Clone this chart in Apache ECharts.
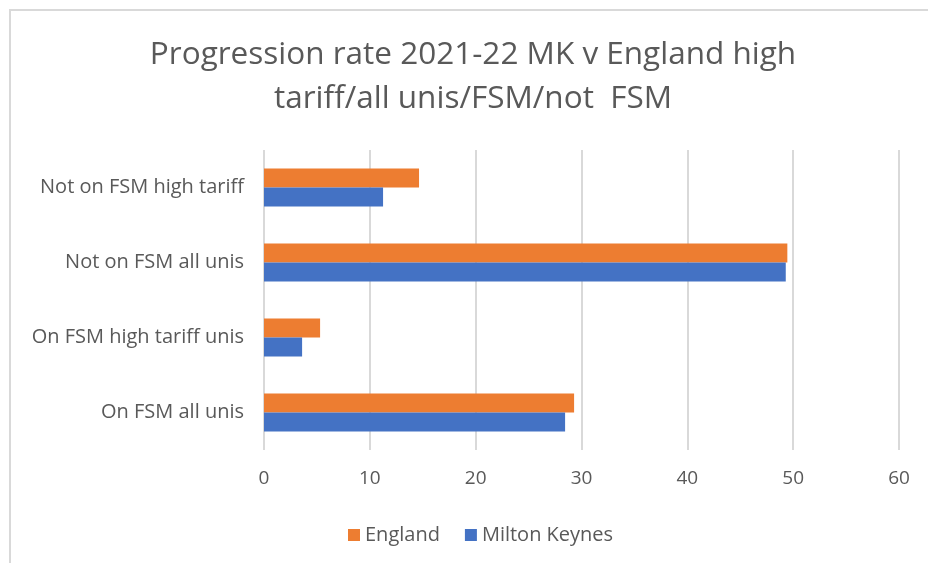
<!DOCTYPE html>
<html>
<head>
<meta charset="utf-8">
<script src="https://cdn.jsdelivr.net/npm/echarts@6/dist/echarts.min.js"></script>
<style>
  html, body { margin: 0; padding: 0; background: #ffffff; }
  #chart { width: 928px; height: 563px; }
</style>
</head>
<body>
<div id="chart"></div>
<script>
// Categories listed bottom-to-top (ECharts category y-axis starts at the bottom)
const categories = ['On FSM all unis', 'On FSM high tariff unis', 'Not on FSM all unis', 'Not on FSM high tariff'];
const englandValues = [29.3, 5.3, 49.45, 14.65];
const miltonKeynesValues = [28.45, 3.6, 49.3, 11.25];
const xTicks = { min: 0, max: 60, interval: 10 };

const textGrey = '#595959';
const fontFamily = '"Open Sans", "Noto Sans", sans-serif';

const chart = echarts.init(document.getElementById('chart'), null, { renderer: 'canvas' });

chart.setOption({
  backgroundColor: '#ffffff',
  animation: false,
  graphic: [{
    type: 'rect',
    z: -10,
    silent: true,
    shape: { x: 10, y: 10, width: 1000, height: 700 },
    style: { fill: '#ffffff', stroke: '#d9d9d9', lineWidth: 2 }
  }],
  title: {
    text: 'Progression rate 2021-22 MK v England high\ntariff/all unis/FSM/not  FSM',
    left: 468,
    textAlign: 'center',
    top: 28,
    textStyle: {
      fontFamily: fontFamily,
      fontWeight: 'normal',
      fontSize: 31.5,
      lineHeight: 44,
      color: textGrey
    }
  },
  legend: {
    data: ['England', 'Milton Keynes'],
    left: 343,
    top: 520,
    itemWidth: 12,
    itemHeight: 12,
    itemGap: 25,
    icon: 'rect',
    textStyle: { fontFamily: fontFamily, fontSize: 20, color: textGrey }
  },
  grid: { left: 264, right: 29, top: 150, height: 300, containLabel: false },
  xAxis: {
    type: 'value',
    min: xTicks.min,
    max: xTicks.max,
    interval: xTicks.interval,
    axisLine: { show: false },
    axisTick: { show: false },
    splitLine: { show: true, lineStyle: { color: '#d9d9d9', width: 2 } },
    axisLabel: { fontFamily: fontFamily, fontSize: 19, color: textGrey, margin: 19 }
  },
  yAxis: {
    type: 'category',
    data: categories,
    axisLine: { show: false },
    axisTick: { show: false },
    axisLabel: { fontFamily: fontFamily, fontSize: 20, color: textGrey, margin: 20 }
  },
  series: [
    {
      name: 'England',
      type: 'bar',
      data: englandValues,
      itemStyle: { color: '#ED7D31' },
      barWidth: 19,
      barGap: '0%'
    },
    {
      name: 'Milton Keynes',
      type: 'bar',
      data: miltonKeynesValues,
      itemStyle: { color: '#4472C4' },
      barWidth: 19,
      barGap: '0%'
    }
  ]
});
</script>
</body>
</html>
